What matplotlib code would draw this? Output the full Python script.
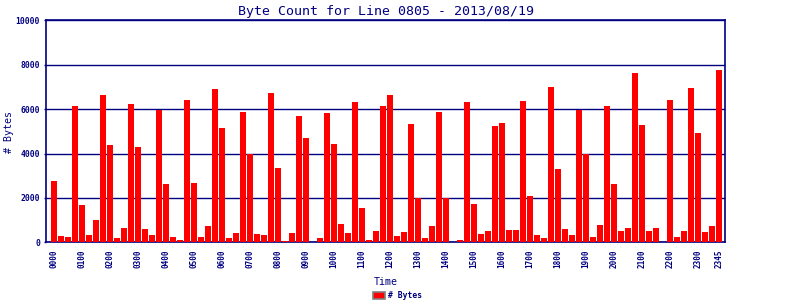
#!/usr/bin/env python3
"""Byte count per 15 min for line 0805."""
import matplotlib
matplotlib.use('Agg')
import matplotlib.pyplot as plt
import matplotlib.patches as mpatches
import numpy as np

NAVY = '#000080'
FONT = 'DejaVu Sans Mono'

# one value per quarter hour, 0000 .. 2345
byte_counts = [
    2760, 285, 240, 6135, 1680, 330, 1005, 6630, 4380, 195, 645, 6225, 4290, 600, 330, 5955,
    2625, 240, 105, 6405, 2670, 240, 735, 6900, 5145, 195, 420, 5865, 3975, 375, 330, 6720,
    3345, 60, 420, 5685, 4695, 0, 195, 5820, 4425, 825, 420, 6315, 1545, 105, 510, 6135,
    6630, 285, 465, 5325, 1995, 195, 735, 5865, 1995, 0, 105, 6315, 1725, 375, 510, 5235,
    5370, 555, 555, 6360, 2085, 330, 195, 6990, 3300, 600, 330, 5955, 3975, 240, 780, 6135,
    2625, 510, 645, 7620, 5280, 510, 645, 0, 6405, 240, 510, 6945, 4920, 465, 735, 7755,
]
tick_labels = [f"{h:02d}00" for h in range(24)] + ["2345"]
tick_idx = list(range(0, 96, 4)) + [95]
y_ticks = [0, 2000, 4000, 6000, 8000, 10000]

fig = plt.figure(figsize=(8, 3), dpi=100)
fig.patch.set_facecolor('white')
ax = fig.add_axes([0.0579, 0.1923, 0.8487, 0.7397])

x = np.arange(len(byte_counts))
ax.set_axisbelow(True)
ax.yaxis.grid(True, color=NAVY, linewidth=1.0)
ax.bar(x, byte_counts, width=0.86, color='#ff0000', zorder=3, label='# Bytes')

ax.set_xlim(-1.1, 95.9)
ax.set_ylim(0, 10000)
ax.set_yticks(y_ticks)
ax.set_yticklabels([str(v) for v in y_ticks], fontsize=5.8, fontweight='bold',
                   color=NAVY, family=FONT)
ax.set_xticks(tick_idx)
ax.set_xticklabels(tick_labels, rotation=90, fontsize=5.5, fontweight='bold',
                   color=NAVY, family=FONT)
ax.tick_params(axis='y', length=1.5, width=1, color=NAVY, pad=3)
ax.tick_params(axis='x', length=0, pad=5)
for s in ax.spines.values():
    s.set_color(NAVY)
    s.set_linewidth(1.2)

ax.set_title("Byte Count for Line 0805 - 2013/08/19", fontsize=9.5, color=NAVY,
             family=FONT, pad=4)
ax.set_xlabel("Time", fontsize=7.2, color=NAVY, family=FONT, labelpad=7)
ax.set_ylabel("# Bytes", fontsize=7.2, color=NAVY, family=FONT, va='center')
ax.yaxis.set_label_coords(-0.055, 0.495)

handle = mpatches.Patch(facecolor='#ff0000', edgecolor='#808080', linewidth=1.2, label='# Bytes')
leg = fig.legend(handles=[handle], loc='lower center', bbox_to_anchor=(0.497, -0.025),
                 frameon=False, handlelength=1.4, handleheight=0.9,
                 handletextpad=0.4, prop={'family': FONT, 'size': 5.8, 'weight': 'bold'})
for t in leg.get_texts():
    t.set_color(NAVY)

fig.savefig("out.png", dpi=100)
plt.close(fig)
